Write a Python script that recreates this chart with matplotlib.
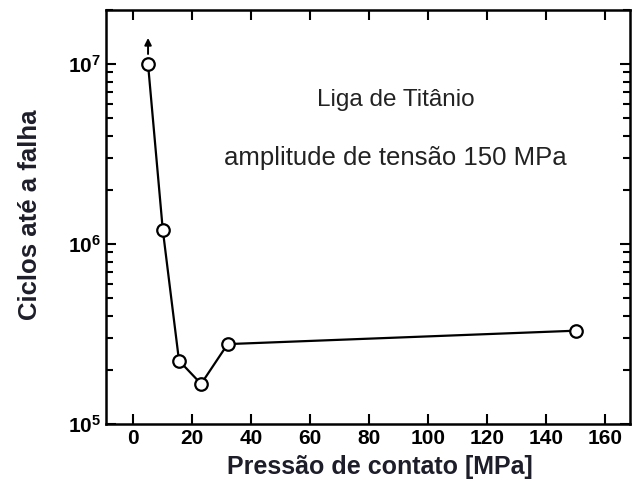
import numpy as np
from matplotlib import pyplot as plt
from matplotlib.ticker import LogLocator, NullFormatter, FixedLocator

# data
pressao = [5, 10, 15.5, 23, 32, 150]
ciclos = [1.0e7, 1.2e6, 2.25e5, 1.67e5, 2.78e5, 3.3e5]
xticks = [0, 20, 40, 60, 80, 100, 120, 140, 160]

plt.rcParams['font.family'] = ['Liberation Sans', 'DejaVu Sans']
plt.rcParams['mathtext.fontset'] = 'custom'
plt.rcParams['mathtext.rm'] = 'Liberation Sans'
plt.rcParams['mathtext.bf'] = 'Liberation Sans:bold'
plt.rcParams['mathtext.default'] = 'bf'

fig = plt.figure(figsize=(6.32, 4.91), dpi=100, facecolor='w')
ax = fig.add_axes([0.168, 0.1365, 0.829, 0.843])

ax.plot(pressao, ciclos, color='k', lw=1.6, marker='o', ms=9,
        mfc='w', mec='k', mew=1.6, zorder=3)
# arrow on the first point (run-out)
ax.annotate('', xy=(pressao[0], ciclos[0] * 1.45), xytext=(pressao[0], ciclos[0] * 1.1),
            arrowprops=dict(arrowstyle='-|>', color='k', lw=1.4, mutation_scale=10))

ax.set_yscale('log')
ax.set_xlim(-9.2, 168.5)
ax.set_ylim(1e5, 2.0e7)
ax.xaxis.set_major_locator(FixedLocator(xticks))
ax.yaxis.set_major_locator(FixedLocator([1e5, 1e6, 1e7]))
ax.yaxis.set_minor_locator(LogLocator(base=10, subs=np.arange(2, 10)))
ax.yaxis.set_minor_formatter(NullFormatter())
ax.set_yticklabels(['$10^5$', '$10^6$', '$10^7$'])

ax.tick_params(which='both', direction='in', top=True, right=True, width=1.5, color='k')
ax.tick_params(which='major', length=7, labelsize=15)
ax.tick_params(which='minor', length=5)
for s in ax.spines.values():
    s.set_linewidth(1.8)

for lab in ax.get_xticklabels():
    lab.set_fontweight('bold')

ax.set_xlabel('Pressão de contato [MPa]', fontsize=18, fontweight='bold', color='#1e1e2a', labelpad=2)
ax.xaxis.set_label_coords(0.523, -0.075)
ax.set_ylabel('Ciclos até a falha', fontsize=18.5, fontweight='bold', color='#1e1e2a')
ax.yaxis.set_label_coords(-0.122, 0.505)

ax.text(0.552, 0.783, 'Liga de Titânio', transform=ax.transAxes, fontsize=17.5,
        ha='center', va='center', color='#222222')
ax.text(0.552, 0.643, 'amplitude de tensão 150 MPa', transform=ax.transAxes, fontsize=18.5,
        ha='center', va='center', color='#222222')

fig.savefig('out.png', dpi=100)
